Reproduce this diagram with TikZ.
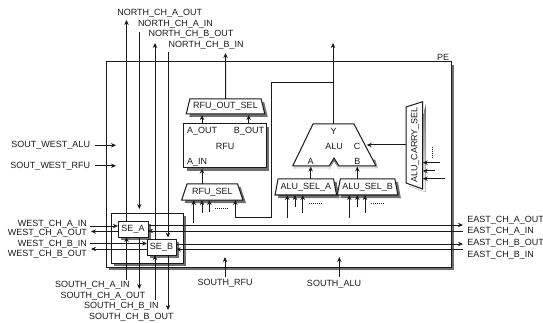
\documentclass[tikz,border=0pt]{standalone}
\usepackage{fontspec}
\setmainfont{Liberation Sans}
\usetikzlibrary{arrows.meta,shapes.geometric,shadows,calc}
\definecolor{shade}{HTML}{707070}
\definecolor{ink}{HTML}{1A1A1A}
\tikzset{
  arr/.style={-{Stealth[length=5pt,width=4.4pt]},line width=1pt,draw=ink},
  wire/.style={line width=1pt,draw=ink},
  shad/.style={drop shadow={shadow xshift=3pt,shadow yshift=-3pt,fill=shade,opacity=1}},
  lab/.style={inner sep=0pt,outer sep=0pt,font=\fontsize{9}{9}\selectfont,text=ink},
  labl/.style={lab,anchor=west},
  labr/.style={lab,anchor=east},
  box/.style={draw=ink,fill=white,line width=1pt,shad,inner sep=0pt,outer sep=0pt},
  trap/.style={trapezium,trapezium stretches=true,draw=ink,fill=white,line width=1pt,shad,inner sep=0pt,outer sep=0pt,font=\fontsize{9}{9}\selectfont,text=ink},
  dots/.style={line width=0.6pt,draw=ink,dash pattern=on 1pt off 1pt}
}
\begin{document}
\begin{tikzpicture}[x=1pt,y=-1pt]
\useasboundingbox (0,0) rectangle (543,323);
% containers
\node[box,minimum width=345pt,minimum height=205pt] (pe) at (278.5,164.5) {};
\node[lab,anchor=east] (pelabel) at (449,57.3) {PE};
\node[box,minimum width=72pt,minimum height=50pt] (inner) at (147,238) {};
% free ends
\coordinate (nAo) at (126.5,20);  \coordinate (sAi) at (126.5,280);
\coordinate (nAi) at (139.3,32);  \coordinate (nAe) at (139.3,209); \coordinate (sAo) at (139.3,289);
\coordinate (nBo) at (155,43);    \coordinate (sBi) at (155,300);
\coordinate (nBi) at (168,52);    \coordinate (nBe) at (168,237.5); \coordinate (sBo) at (168,310);
\coordinate (wAi) at (90,226); \coordinate (wAo) at (91,231.5);
\coordinate (wBi) at (90,243.5); \coordinate (wBo) at (91,249);
\coordinate (eAo) at (463,225); \coordinate (eAi) at (463,231);
\coordinate (eBo) at (463,244); \coordinate (eBi) at (463,249.5);
% RFU blocks
\node[trap,trapezium angle=68,minimum width=79pt,minimum height=15pt] (rfuout) at (225.5,106.5) {RFU\_OUT\_SEL};
\node[box,minimum width=82.5pt,minimum height=44pt] (rfu) at (225.2,146) {};
\node[lab] (rfutxt) at (225,146) {RFU};
\node[labl] (rfua) at (187,131) {A\_OUT};
\node[labr] (rfub) at (264,131) {B\_OUT};
\node[labl] (rfuin) at (187,162) {A\_IN};
\node[trap,trapezium angle=62,minimum width=61.5pt,minimum height=16pt] (rfusel) at (212.3,192) {RFU\_SEL};
% ALU
\coordinate (aluTL) at (313,124); \coordinate (aluTR) at (354,124);
\coordinate (aluBR) at (376,166); \coordinate (aluBL) at (292.7,166);
\fill[shade] ($(aluBL)+(2,3)$) -- (329.3,169) -- (334,161) -- (339,169) -- ($(aluBR)+(2,3)$) -- (375,160) -- (330,160) -- (295,160) -- cycle;
\draw[wire,fill=white] (aluTL) -- (aluTR) -- (aluBR) -- (339,166) -- (334,158) -- (329.3,166) -- (aluBL) -- cycle;
\node[lab] (aluY) at (333.7,131) {Y};
\node[lab] (alu) at (334,146) {ALU};
\node[lab] (aluC) at (357,146) {C};
\node[lab] (aluA) at (310.7,161.5) {A};
\node[lab] (aluB) at (357.3,161.5) {B};
\node[trap,trapezium angle=71,minimum width=61.7pt,minimum height=16pt] (selA) at (305.8,187) {ALU\_SEL\_A};
\node[trap,trapezium angle=71,minimum width=60.7pt,minimum height=16pt] (selB) at (367.6,187) {ALU\_SEL\_B};
% carry selector
\coordinate (cTL) at (406,107); \coordinate (cTR) at (422.7,101.7);
\coordinate (cBR) at (422.7,189); \coordinate (cBL) at (406,183);
\fill[shade] ($(cTR)+(3,3)$) -- ($(cBR)+(3,3)$) -- ($(cBL)+(3,3)$) -- cycle;
\draw[wire,fill=white] (cTL) -- (cTR) -- (cBR) -- (cBL) -- cycle;
\node[lab,rotate=90] (carry) at (415,145) {ALU\_CARRY\_SEL};
% RFU wires
\draw[arr] (rfuout.north) -- (225.5,53);
\draw[arr] (202,124) -- (202,115);
\draw[arr] (248.7,124) -- (248.7,115);
\draw[arr] (202,184) -- (202,168.5);
\coordinate (i1) at (193.7,222.7); \coordinate (i2) at (202,212.7); \coordinate (i3) at (209.4,212);
\draw[arr] (i1) -- (i1 |- rfusel.south);
\draw[arr] (i2) -- (i2 |- rfusel.south);
\draw[arr] (i3) -- (i3 |- rfusel.south);
\draw[dots] (215,208) -- (229,208);
\coordinate (aluOut) at (333,43); \coordinate (fbK) at (271.7,82.5); \coordinate (fbL) at (271.7,217.7); \coordinate (fbS) at (235.3,217.7);
\draw[arr] (aluTL -| aluOut) -- (aluOut);
\draw[arr] (aluOut |- fbK) -- (fbK) -- (fbL) -- (fbS) -- (fbS |- rfusel.south);
% ALU wires
\draw[arr] (310.7,179) -- (310.7,166.5);
\draw[arr] (357.3,179) -- (357.3,166.5);
\foreach \nm/\x/\y in {a/287.3/217.7,b/295/207,c/302.7/212.7}{\coordinate (p\nm) at (\x,\y); \draw[arr] (p\nm) -- (p\nm |- selA.south);}
\foreach \nm/\x/\y in {a/349.3/217.7,b/357.3/207,c/365/212.7}{\coordinate (q\nm) at (\x,\y); \draw[arr] (q\nm) -- (q\nm |- selB.south);}
\draw[dots] (309,203) -- (323,203);
\draw[dots] (371,203) -- (385,203);
\coordinate (aluRt) at (366.7,145);
\draw[arr] (cTL |- aluRt) -- (aluRt);
\coordinate (c1) at (440,162.7); \coordinate (c2) at (435,171); \coordinate (c3) at (445,178.7);
\draw[arr] (c1) -- (cBR |- c1);
\draw[arr] (c2) -- (cBR |- c2);
\draw[arr] (c3) -- (cBR |- c3);
\draw[dots] (432,146.7) -- (432,158);
% switch elements
\node[box,minimum width=30pt,minimum height=16pt,font=\fontsize{9}{9}\selectfont,text=ink] (seA) at (133,229) {SE\_A};
\node[box,minimum width=29pt,minimum height=16pt,font=\fontsize{9}{9}\selectfont,text=ink] (seB) at (161.5,247) {SE\_B};
% channel wires
\draw[arr] (seA.north -| nAo) -- (nAo);
\draw[arr] (sAi) -- (sAi |- seA.south);
\draw[arr] (nAi) -- (nAe);
\draw[arr] (seA.south -| sAo) -- (sAo);
\draw[arr] (seB.north -| nBo) -- (nBo);
\draw[arr] (sBi) -- (sBi |- seB.south);
\draw[arr] (nBi) -- (nBe);
\draw[arr] (seB.south -| sBo) -- (sBo);
\draw[arr] (wAi) -- (seA.west |- wAi);
\draw[arr] (seA.west |- wAo) -- (wAo);
\draw[arr] (wBi) -- (seB.west |- wBi);
\draw[arr] (seB.west |- wBo) -- (wBo);
\draw[arr] (seA.east |- eAo) -- (eAo);
\draw[arr] (eAi) -- (seA.east |- eAi);
\draw[arr] (seB.east |- eBo) -- (eBo);
\draw[arr] (eBi) -- (seB.east |- eBi);
% side inputs
\coordinate (swa) at (95,145.3); \coordinate (swr) at (95,165.8);
\coordinate (swaE) at (116,145.3); \coordinate (swrE) at (116,165.8);
\draw[arr] (swa) -- (swaE);
\draw[arr] (swr) -- (swrE);
\coordinate (sr) at (225,277); \coordinate (sa) at (339.3,277);
\coordinate (srE) at (225,257); \coordinate (saE) at (339.3,257);
\draw[arr] (sr) -- (srE);
\draw[arr] (sa) -- (saE);
% labels
\node[labl] (l1) at (117.3,13.5) {NORTH\_CH\_A\_OUT};
\node[labl] (l2) at (138,24) {NORTH\_CH\_A\_IN};
\node[labl] (l3) at (148.5,34.7) {NORTH\_CH\_B\_OUT};
\node[labl] (l4) at (168.7,45) {NORTH\_CH\_B\_IN};
\node[labr] (l5) at (87,224) {WEST\_CH\_A\_IN};
\node[labr] (l6) at (87,233.5) {WEST\_CH\_A\_OUT};
\node[labr] (l7) at (87,244) {WEST\_CH\_B\_IN};
\node[labr] (l8) at (87,254.7) {WEST\_CH\_B\_OUT};
\node[labl] (l9) at (55,285.7) {SOUTH\_CH\_A\_IN};
\node[labl] (l10) at (60.7,296.7) {SOUTH\_CH\_A\_OUT};
\node[labl] (l11) at (84,306.7) {SOUTH\_CH\_B\_IN};
\node[labl] (l12) at (89,317.7) {SOUTH\_CH\_B\_OUT};
\node[labl] (l13) at (467.3,220) {EAST\_CH\_A\_OUT};
\node[labl] (l14) at (467.3,231) {EAST\_CH\_A\_IN};
\node[labl] (l15) at (467.3,243.7) {EAST\_CH\_B\_OUT};
\node[labl] (l16) at (467.3,255) {EAST\_CH\_B\_IN};
\node[lab] (l17) at (225,283.7) {SOUTH\_RFU};
\node[lab] (l18) at (334,284) {SOUTH\_ALU};
\node[labr] (l19) at (90,145.7) {SOUT\_WEST\_ALU};
\node[labr] (l20) at (90,166) {SOUT\_WEST\_RFU};
\end{tikzpicture}
\end{document}
